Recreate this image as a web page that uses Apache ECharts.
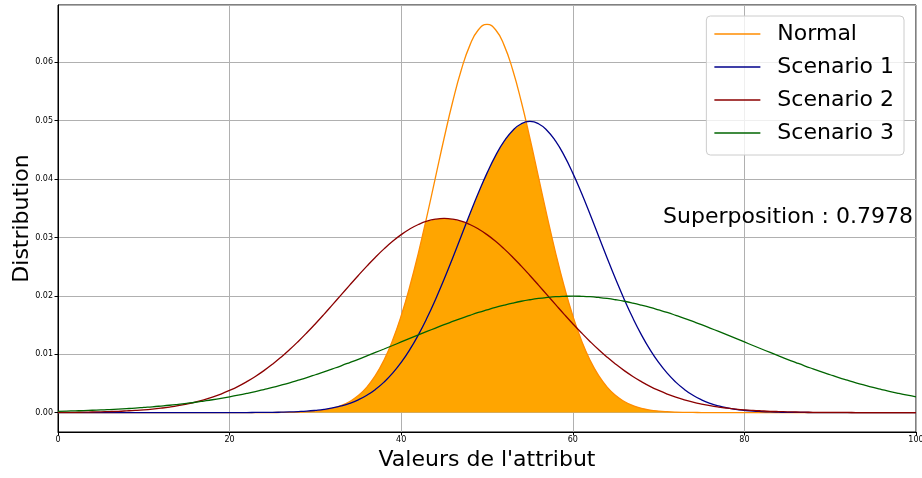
<!DOCTYPE html>
<html>
<head>
<meta charset="utf-8">
<script src="https://cdn.jsdelivr.net/npm/echarts@6/dist/echarts.min.js"></script>
<style>
  html, body { margin: 0; padding: 0; background: #fff; }
  #chart { width: 922px; height: 478px; }
</style>
</head>
<body>
<div id="chart"></div>
<script>
// Sample positions along the attribute axis: 0, 1, ..., 100
const xValues = Array.from({ length: 101 }, (_, i) => i);

const seriesNames = ['Normal', 'Scenario 1', 'Scenario 2', 'Scenario 3'];
const seriesColors = ['#ff8c00', '#00008b', '#8b0000', '#006400'];
const overlapColor = '#ffa500';
const overlapText = 'Superposition : 0.7978';

// Density of each distribution at xValues (one row = ten x steps)
const normalValues = [
  0, 0, 0, 0, 0, 0, 0, 0, 0, 0,
  0, 0, 0, 0, 0, 0, 0, 0, 0, 0,
  0, 0, 0, 0, 0, 0.00001, 0.00002, 0.00004, 0.00008, 0.00015,
  0.00026, 0.00044, 0.00074, 0.00120, 0.00190, 0.00292, 0.00437, 0.00636, 0.00900, 0.01239,
  0.01658, 0.02159, 0.02733, 0.03367, 0.04033, 0.04699, 0.05324, 0.05868, 0.06290, 0.06557,
  0.06649, 0.06557, 0.06290, 0.05868, 0.05324, 0.04699, 0.04033, 0.03367, 0.02733, 0.02159,
  0.01658, 0.01239, 0.00900, 0.00636, 0.00437, 0.00292, 0.00190, 0.00120, 0.00074, 0.00044,
  0.00026, 0.00015, 0.00008, 0.00004, 0.00002, 0.00001, 0, 0, 0, 0,
  0, 0, 0, 0, 0, 0, 0, 0, 0, 0,
  0, 0, 0, 0, 0, 0, 0, 0, 0, 0,
  0
];

const scenario1Values = [
  0, 0, 0, 0, 0, 0, 0, 0, 0, 0,
  0, 0, 0, 0, 0, 0, 0, 0, 0, 0,
  0, 0.00001, 0.00001, 0.00002, 0.00003, 0.00004, 0.00007, 0.00011, 0.00017, 0.00025,
  0.00038, 0.00055, 0.00080, 0.00114, 0.00159, 0.00219, 0.00297, 0.00397, 0.00522, 0.00675,
  0.00860, 0.01078, 0.01332, 0.01619, 0.01938, 0.02283, 0.02648, 0.03025, 0.03401, 0.03764,
  0.04102, 0.04401, 0.04648, 0.04833, 0.04948, 0.04987, 0.04948, 0.04833, 0.04648, 0.04401,
  0.04102, 0.03764, 0.03401, 0.03025, 0.02648, 0.02283, 0.01938, 0.01619, 0.01332, 0.01078,
  0.00860, 0.00675, 0.00522, 0.00397, 0.00297, 0.00219, 0.00159, 0.00114, 0.00080, 0.00055,
  0.00038, 0.00025, 0.00017, 0.00011, 0.00007, 0.00004, 0.00003, 0.00002, 0.00001, 0.00001,
  0, 0, 0, 0, 0, 0, 0, 0, 0, 0,
  0
];

const scenario2Values = [
  0.00003, 0.00004, 0.00005, 0.00007, 0.00010, 0.00013, 0.00017, 0.00022, 0.00029, 0.00037,
  0.00047, 0.00060, 0.00076, 0.00095, 0.00118, 0.00146, 0.00179, 0.00218, 0.00264, 0.00318,
  0.00380, 0.00450, 0.00530, 0.00619, 0.00719, 0.00829, 0.00949, 0.01079, 0.01219, 0.01367,
  0.01522, 0.01683, 0.01849, 0.02016, 0.02184, 0.02349, 0.02509, 0.02662, 0.02804, 0.02934,
  0.03048, 0.03145, 0.03222, 0.03279, 0.03313, 0.03325, 0.03313, 0.03279, 0.03222, 0.03145,
  0.03048, 0.02934, 0.02804, 0.02662, 0.02509, 0.02349, 0.02184, 0.02016, 0.01849, 0.01683,
  0.01522, 0.01367, 0.01219, 0.01079, 0.00949, 0.00829, 0.00719, 0.00619, 0.00530, 0.00450,
  0.00380, 0.00318, 0.00264, 0.00218, 0.00179, 0.00146, 0.00118, 0.00095, 0.00076, 0.00060,
  0.00047, 0.00037, 0.00029, 0.00022, 0.00017, 0.00013, 0.00010, 0.00007, 0.00005, 0.00004,
  0.00003, 0.00002, 0.00002, 0.00001, 0.00001, 0.00001, 0, 0, 0, 0,
  0
];

const scenario3Values = [
  0.00022, 0.00026, 0.00030, 0.00034, 0.00040, 0.00045, 0.00052, 0.00060, 0.00068, 0.00077,
  0.00088, 0.00099, 0.00112, 0.00126, 0.00142, 0.00159, 0.00177, 0.00198, 0.00220, 0.00244,
  0.00270, 0.00298, 0.00328, 0.00360, 0.00395, 0.00431, 0.00470, 0.00511, 0.00555, 0.00600,
  0.00648, 0.00697, 0.00749, 0.00802, 0.00857, 0.00913, 0.00971, 0.01030, 0.01089, 0.01149,
  0.01210, 0.01270, 0.01330, 0.01390, 0.01448, 0.01506, 0.01561, 0.01615, 0.01666, 0.01715,
  0.01760, 0.01803, 0.01841, 0.01876, 0.01907, 0.01933, 0.01955, 0.01972, 0.01985, 0.01992,
  0.01995, 0.01992, 0.01985, 0.01972, 0.01955, 0.01933, 0.01907, 0.01876, 0.01841, 0.01803,
  0.01760, 0.01715, 0.01666, 0.01615, 0.01561, 0.01506, 0.01448, 0.01390, 0.01330, 0.01270,
  0.01210, 0.01149, 0.01089, 0.01030, 0.00971, 0.00913, 0.00857, 0.00802, 0.00749, 0.00697,
  0.00648, 0.00600, 0.00555, 0.00511, 0.00470, 0.00431, 0.00395, 0.00360, 0.00328, 0.00298,
  0.00270
];

const xTicks = { min: 0, max: 100, step: 20 };
const yRange = { min: -0.003325, max: 0.069815 };

const curves = [normalValues, scenario1Values, scenario2Values, scenario3Values];
const pairs = ys => xValues.map((x, i) => [x, ys[i]]);

// Shared area: under Normal and under the highest scenario curve.
// Within each x step the curves are taken as straight segments; their
// crossing points are added so the area's corners sit where the curves meet.
function sharedAt(i, t) {
  const v = curves.map(c => (i + 1 < c.length ? c[i] + (c[i + 1] - c[i]) * t : c[i]));
  return Math.min(v[0], Math.max(v[1], v[2], v[3]));
}
const overlapPoints = [];
for (let i = 0; i < xValues.length - 1; i++) {
  const ts = [0];
  for (let a = 0; a < curves.length; a++) {
    for (let b = a + 1; b < curves.length; b++) {
      const d0 = curves[a][i] - curves[b][i];
      const d1 = curves[a][i + 1] - curves[b][i + 1];
      if (d0 * d1 < 0) ts.push(d0 / (d0 - d1));
    }
  }
  ts.sort((p, q) => p - q);
  ts.forEach(t => overlapPoints.push([xValues[i] + (xValues[i + 1] - xValues[i]) * t, sharedAt(i, t)]));
}
overlapPoints.push([xValues[xValues.length - 1], sharedAt(xValues.length - 1, 0)]);

const FONT = 'DejaVu Sans';
const chart = echarts.init(document.getElementById('chart'), null, { renderer: 'canvas' });

const lineSeries = (name, values, color) => ({
  name, type: 'line', data: pairs(values),
  showSymbol: false, symbol: 'none',
  smooth: 0.5,
  lineStyle: { color, width: 1.3 },
  itemStyle: { color },
  z: 3,
  silent: true
});

chart.setOption({
  animation: false,
  backgroundColor: '#fff',
  textStyle: { fontFamily: FONT },
  grid: {
    left: 58, right: 6, top: 5, bottom: 46,
    show: true, borderColor: '#000', borderWidth: 1,
    containLabel: false, outerBoundsMode: 'none'
  },
  legend: {
    orient: 'vertical',
    right: 18, top: 16,
    data: seriesNames,
    icon: 'rect',
    itemWidth: 46, itemHeight: 1.5,
    itemGap: 7,
    padding: [5, 10, 9, 8],
    backgroundColor: 'rgba(255,255,255,0.8)',
    borderColor: '#cccccc', borderWidth: 1, borderRadius: 4,
    textStyle: { fontFamily: FONT, fontSize: 22, color: '#000', lineHeight: 26, padding: [0, 0, 0, 12] }
  },
  xAxis: {
    type: 'value',
    min: xTicks.min, max: xTicks.max, interval: xTicks.step,
    name: "Valeurs de l'attribut",
    nameLocation: 'middle', nameGap: 17, nameMoveOverlap: false,
    nameTextStyle: { fontFamily: FONT, fontSize: 22, color: '#000' },
    axisLine: { show: true, onZero: false, lineStyle: { color: '#000', width: 1 } },
    axisTick: { show: true, length: 3.5, lineStyle: { color: '#000', width: 1 } },
    axisLabel: { fontFamily: FONT, fontSize: 8, color: '#000', margin: 4 },
    splitLine: { show: true, lineStyle: { color: '#b0b0b0', width: 1 } }
  },
  yAxis: {
    type: 'value',
    min: yRange.min, max: yRange.max, splitNumber: 7,
    name: 'Distribution',
    nameLocation: 'middle', nameGap: 25, nameMoveOverlap: false,
    nameTextStyle: { fontFamily: FONT, fontSize: 22, color: '#000' },
    axisLine: { show: true, onZero: false, lineStyle: { color: '#000', width: 1 } },
    axisTick: { show: true, length: 3.5, lineStyle: { color: '#000', width: 1 } },
    axisLabel: {
      fontFamily: FONT, fontSize: 8, color: '#000', margin: 5,
      showMinLabel: false, showMaxLabel: false,
      formatter: v => v.toFixed(2)
    },
    splitLine: { show: true, lineStyle: { color: '#b0b0b0', width: 1 } }
  },
  graphic: [{
    type: 'text',
    x: 913, y: 217, z: 100,
    style: {
      text: overlapText,
      fontFamily: FONT, fontSize: 22, fill: '#000',
      align: 'right', verticalAlign: 'middle'
    }
  }],
  series: [
    {
      name: 'overlap', type: 'line',
      data: overlapPoints,
      showSymbol: false, symbol: 'none',
      lineStyle: { width: 0 },
      areaStyle: { color: overlapColor, opacity: 1 },
      z: 1, silent: true
    },
    lineSeries(seriesNames[0], normalValues, seriesColors[0]),
    lineSeries(seriesNames[1], scenario1Values, seriesColors[1]),
    lineSeries(seriesNames[2], scenario2Values, seriesColors[2]),
    lineSeries(seriesNames[3], scenario3Values, seriesColors[3])
  ]
});
</script>
</body>
</html>
